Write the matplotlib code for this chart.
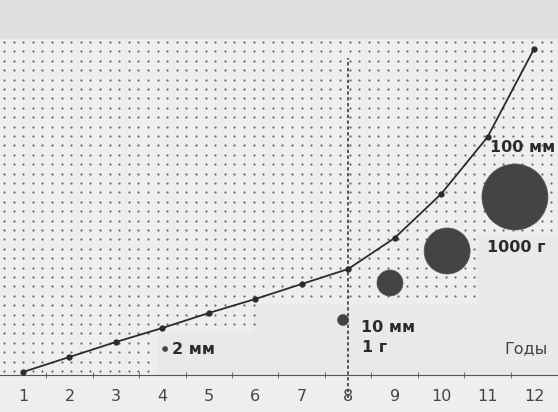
import numpy as np
import matplotlib
matplotlib.use("Agg")
import matplotlib.pyplot as plt
from matplotlib.patches import Rectangle

plt.rcParams['font.family'] = ['DejaVu Sans']

# годы и рост (условные единицы)
years = [1, 2, 3, 4, 5, 6, 7, 8, 9, 10, 11, 12]
growth = [3, 18, 33, 47, 62, 76, 91, 106, 137, 181, 238, 326]

# кружки - размер животного
blob_x = [4.06, 7.89, 8.9, 10.13, 11.59]
blob_y = [26, 55, 92, 124, 178]
blob_d = [5, 11, 26, 46, 66]   # диаметр, px

ink = '#2b2b2b'
W, H = 558, 412

fig = plt.figure(figsize=(W / 100, H / 100), dpi=100, facecolor='#eeeeee')
ax = fig.add_axes([0, (H - 375) / H, 1, (375 - 38) / H])
ax.set_facecolor('#eeeeee')

px = 46.45
x0 = 1 - 23 / px
x1 = 12 + (W - 534) / px
ax.set_xlim(x0, x1)
ax.set_ylim(0, 337)

def X(p):
    return x0 + p / px

def Y(p):
    return 375 - p

# полоса сверху
fig.patches.append(Rectangle((0, (H - 38) / H), 1, 38 / H, transform=fig.transFigure,
                             color='#e0e0e0', zorder=0))

# точечный фон
gx, gy = np.meshgrid(np.arange(4, W, 9.6), np.arange(42, 375, 9.4))
gx = gx.ravel()
gy = gy.ravel()
keep = ~(((gx > 157) & (gx < 477) & (gy > 333)) |
         ((gx > 254) & (gx < 477) & (gy > 305)) |
         ((gx > 477) & (gy > 235)))
ax.scatter(X(gx[keep]), Y(gy[keep]), s=2.6, color='#6a6a6a', lw=0, zorder=1)

# светлые участки
for (a, b, c, d) in [(157, 333, 477, 375), (254, 305, 477, 333), (477, 235, W, 375)]:
    ax.add_patch(Rectangle((X(a), Y(d)), (c - a) / px, d - b, color='#e9e9e9', lw=0, zorder=0.5))

ax.plot(years, growth, color=ink, lw=1.3, marker='o', ms=3.5, zorder=4, clip_on=False)

ax.scatter(blob_x, blob_y, s=[(d * 0.72) ** 2 for d in blob_d], color='#444444',
           edgecolor='#555555', lw=0.5, zorder=3)

ax.plot([8, 8], [-23, 317], color='#3a3a3a', lw=1.2, ls=(0, (2, 1.5)), clip_on=False, zorder=2)

kw = dict(color=ink, fontsize=11.5, fontweight='bold', va='center', zorder=5)
ax.text(X(172), Y(349), '2 мм', **kw)
ax.text(X(361), Y(327), '10 мм', **kw)
ax.text(X(362), Y(347), '1 г', **kw)
ax.text(X(490), Y(148), '100 мм', **kw)
ax.text(X(487), Y(247), '1000 г', **kw)
ax.text(X(504), Y(349), 'Годы', color='#444444', fontsize=11.5, va='center', zorder=5)

for s in ['top', 'left', 'right']:
    ax.spines[s].set_visible(False)
ax.spines['bottom'].set_color('#555555')
ax.set_yticks([])
ax.set_xticks(years)
ax.set_xticks(np.arange(1.5, 12.5, 1), minor=True)
ax.tick_params(axis='x', which='major', length=0, pad=10, labelsize=11.5, labelcolor='#444444')
ax.tick_params(axis='x', which='minor', length=5, direction='inout', color='#555555')

fig.savefig('out.png', dpi=100, facecolor=fig.get_facecolor())
